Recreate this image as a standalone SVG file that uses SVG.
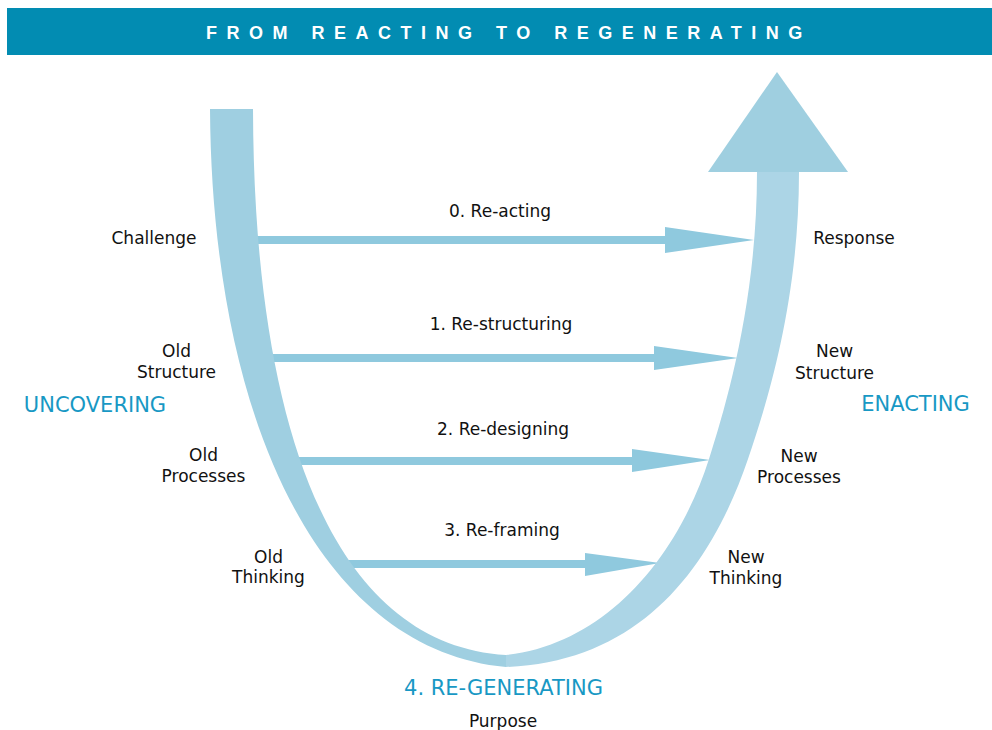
<svg xmlns="http://www.w3.org/2000/svg" width="992" height="730" viewBox="0 0 992 730">
<style>
.lbl{font-family:"DejaVu Sans","Liberation Sans",sans-serif;font-size:17px;fill:#111;text-anchor:middle}
.big{font-family:"DejaVu Sans","Liberation Sans",sans-serif;font-size:21px;fill:#1898c4;text-anchor:middle}
.title{font-family:"Liberation Sans",Arial,sans-serif;font-size:18px;font-weight:bold;fill:#fff;letter-spacing:9.5px}
.conn line{stroke:#8fc9de;stroke-width:8}
.conn polygon{fill:#8fc9de}
</style>
<rect x="0" y="0" width="992" height="730" fill="#fff"/>
<g id="header">
<rect x="7" y="8" width="985" height="47" fill="#028cb2"/>
<text class="title" x="206" y="39">FROM REACTING TO REGENERATING</text>
</g>
<g id="connectors" class="conn">
<line x1="250" y1="240" x2="667" y2="240"/>
<polygon points="665,227 754,240 665,253"/>
<line x1="264" y1="358" x2="656" y2="358"/>
<polygon points="654,346 738,358 654,370"/>
<line x1="290" y1="461" x2="634" y2="461"/>
<polygon points="632,449 710,460 632,472"/>
<line x1="340" y1="564" x2="587" y2="564"/>
<polygon points="585,553 660,563 585,576"/>
</g>
<g id="uncovering-band">
<path fill="#9fcfe1" d="M210,109 C212,420 320,650 506,667 L506,655 C338,645 254,440 253,109 Z"/>
</g>
<g id="enacting-band">
<path fill="#acd5e6" d="M799,172 C799,300 768.4,399 748,459 C710.6,569 640,662 506,667 L506,655 C600,645 675,565 709,459 C726.6,404 757,300 757,172 Z"/>
<polygon fill="#9fcfe0" points="777,72 708,172 848,172"/>
</g>
<g id="step0"><text class="lbl" x="500" y="217">0. Re-acting</text></g>
<g id="step1"><text class="lbl" x="501" y="330">1. Re-structuring</text></g>
<g id="step2"><text class="lbl" x="503" y="435">2. Re-designing</text></g>
<g id="step3"><text class="lbl" x="502" y="536">3. Re-framing</text></g>
<g id="challenge"><text class="lbl" x="154" y="244">Challenge</text></g>
<g id="old-structure"><text class="lbl" x="176.5" y="357">Old</text><text class="lbl" x="176.5" y="378">Structure</text></g>
<g id="old-processes"><text class="lbl" x="203.5" y="461">Old</text><text class="lbl" x="203.5" y="482">Processes</text></g>
<g id="old-thinking"><text class="lbl" x="268.5" y="563">Old</text><text class="lbl" x="268.5" y="583">Thinking</text></g>
<g id="response"><text class="lbl" x="854" y="244">Response</text></g>
<g id="new-structure"><text class="lbl" x="834.5" y="357">New</text><text class="lbl" x="834.5" y="379">Structure</text></g>
<g id="new-processes"><text class="lbl" x="799" y="462">New</text><text class="lbl" x="799" y="483">Processes</text></g>
<g id="new-thinking"><text class="lbl" x="746" y="563">New</text><text class="lbl" x="746" y="584">Thinking</text></g>
<g id="uncovering"><text class="big" x="95" y="412">UNCOVERING</text></g>
<g id="enacting"><text class="big" x="915.5" y="411">ENACTING</text></g>
<g id="regenerating"><text class="big" x="503.5" y="695">4. RE-GENERATING</text></g>
<g id="purpose"><text class="lbl" x="503" y="727">Purpose</text></g>
</svg>
